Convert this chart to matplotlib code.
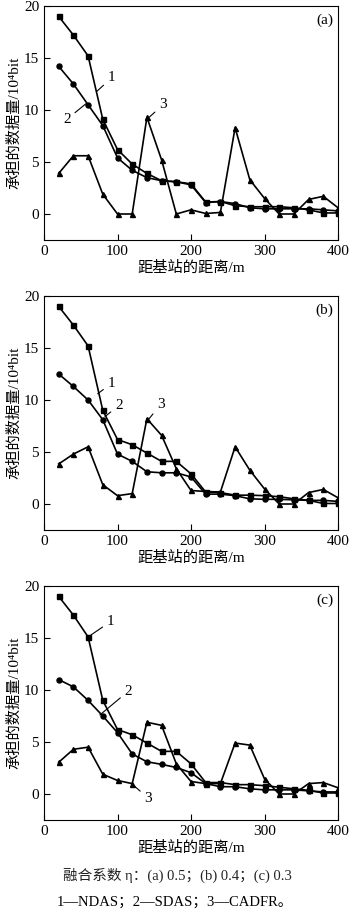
import numpy as np
import matplotlib
matplotlib.use("Agg")
import matplotlib.pyplot as plt

plt.rcParams['font.family'] = ['Liberation Serif', 'Noto Sans CJK SC', 'DejaVu Sans']

# distance from base station (m)
dist = [20, 40, 60, 80, 100, 120, 140, 160, 180, 200,
        220, 240, 260, 280, 300, 320, 340, 360, 380, 400]

# (a) eta = 0.5
ndas_a = [19.0, 17.2, 15.2, 9.1, 6.2, 4.8, 3.9, 3.2, 3.1, 2.9,
          1.15, 1.2, 0.8, 0.7, 0.7, 0.7, 0.6, 0.4, 0.1, 0.1]
sdas_a = [14.2, 12.5, 10.5, 8.5, 5.4, 4.2, 3.5, 3.2, 3.1, 2.8,
          1.1, 1.2, 1.0, 0.6, 0.5, 0.5, 0.5, 0.5, 0.4, 0.3]
cadfr_a = [3.9, 5.6, 5.6, 1.9, 0.0, 0.0, 9.3, 5.2, 0.0, 0.4,
           0.05, 0.15, 8.3, 3.3, 1.5, 0.0, 0.0, 1.4, 1.7, 0.6]

# (b) eta = 0.4
ndas_b = [19.0, 17.2, 15.2, 9.0, 6.2, 5.7, 4.9, 4.1, 4.1, 2.9,
          1.15, 1.1, 0.85, 0.85, 0.8, 0.7, 0.5, 0.35, 0.05, 0.05]
sdas_b = [12.5, 11.3, 10.0, 8.1, 4.8, 4.1, 3.1, 3.0, 3.0, 2.6,
          0.95, 0.95, 0.8, 0.5, 0.45, 0.45, 0.4, 0.35, 0.35, 0.25]
cadfr_b = [3.85, 4.8, 5.5, 1.85, 0.8, 1.0, 8.2, 6.6, 3.4, 1.3,
           1.2, 1.15, 5.5, 3.25, 1.45, 0.0, 0.0, 1.1, 1.4, 0.6]

# (c) eta = 0.3
ndas_c = [19.0, 17.2, 15.1, 9.0, 6.2, 5.7, 4.9, 4.1, 4.1, 2.9,
          1.1, 1.1, 0.9, 0.9, 0.8, 0.65, 0.5, 0.35, 0.1, 0.1]
sdas_c = [11.0, 10.3, 9.0, 7.5, 5.9, 3.85, 3.1, 2.85, 2.55, 2.05,
          1.0, 0.7, 0.7, 0.5, 0.4, 0.4, 0.4, 0.3, 0.2, 0.2]
cadfr_c = [3.05, 4.3, 4.5, 1.9, 1.3, 1.0, 6.9, 6.6, 2.9, 1.2,
           1.0, 1.0, 4.9, 4.7, 1.45, 0.0, 0.0, 1.0, 1.1, 0.6]

panel_labels = ["(a)", "(b)", "(c)"]
series = [(ndas_a, sdas_a, cadfr_a), (ndas_b, sdas_b, cadfr_b), (ndas_c, sdas_c, cadfr_c)]

# curve label annotations per panel: (text, text position, line end on curve)
notes = [
    [("1", (92, 13.1), (72, 11.8)), ("2", (31, 9.1), (57, 10.6)), ("3", (162, 10.5), (143, 9.3))],
    [("1", (92, 11.6), (73, 10.6)), ("2", (102, 9.5), (83, 8.4)), ("3", (159, 9.6), (143, 8.2))],
    [("1", (91, 16.6), (60, 15.1)), ("2", (115, 9.9), (76, 7.6)), ("3", (142, -0.4), (119, 1.0))],
]

fig = plt.figure(figsize=(3.5, 9.14), dpi=100)
tops = [6, 296, 586]
for i in range(3):
    top = tops[i]
    ax = fig.add_axes([44 / 350, 1 - (top + 234) / 914, 294 / 350, 234 / 914])
    n1, n2, n3 = series[i]
    ax.plot(dist, n1, color="black", lw=1.2, marker="s", ms=3.6)
    ax.plot(dist, n2, color="black", lw=1.2, marker="o", ms=3.6)
    ax.plot(dist, n3, color="black", lw=1.2, marker="^", ms=3.6)
    ax.set_xlim(0, 400)
    ax.set_ylim(-2.5, 20)
    ax.set_xticks([0, 100, 200, 300, 400])
    ax.set_yticks([0, 5, 10, 15, 20])
    ax.tick_params(direction="in", length=4, labelsize=11, top=False, right=False)
    ax.set_xlabel("距基站的距离/m", fontsize=11, labelpad=2)
    ax.set_ylabel("承担的数据量/10⁴bit", fontsize=11, labelpad=2)
    ax.text(0.985, 0.94, panel_labels[i], transform=ax.transAxes, ha="right", va="center", fontsize=11)
    for txt, tpos, apos in notes[i]:
        ax.annotate(txt, xy=apos, xytext=tpos, fontsize=11, ha="center", va="center",
                    arrowprops=dict(arrowstyle="-", color="black", lw=0.8, shrinkA=1.5, shrinkB=0))

fig.text(0.507, 1 - 875 / 914, "融合系数 η：(a) 0.5；(b) 0.4；(c) 0.3", ha="center", va="center",
         fontsize=10.5, color="#222222")
fig.text(0.50, 1 - 902 / 914, "1—NDAS；2—SDAS；3—CADFR。", ha="center", va="center", fontsize=10.5)

fig.savefig("out.png", dpi=100)
